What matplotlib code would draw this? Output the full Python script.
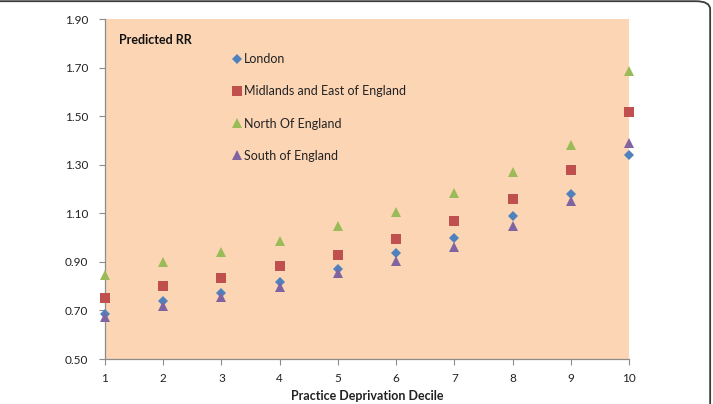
import matplotlib
matplotlib.use("Agg")
import matplotlib.pyplot as plt
from matplotlib.patches import FancyBboxPatch

plt.rcParams['font.family'] = ['Lato', 'DejaVu Sans']

deciles = [1, 2, 3, 4, 5, 6, 7, 8, 9, 10]
london = [0.686, 0.740, 0.771, 0.819, 0.872, 0.936, 1.000, 1.090, 1.180, 1.341]
midlands = [0.751, 0.799, 0.833, 0.881, 0.928, 0.995, 1.068, 1.158, 1.277, 1.517]
north = [0.847, 0.898, 0.939, 0.987, 1.048, 1.107, 1.183, 1.272, 1.382, 1.687]
south = [0.671, 0.719, 0.754, 0.796, 0.854, 0.902, 0.962, 1.048, 1.151, 1.391]
y_ticks = [0.50, 0.70, 0.90, 1.10, 1.30, 1.50, 1.70, 1.90]

W, H = 713, 404
fig = plt.figure(figsize=(W / 100, H / 100), dpi=100)
ax = fig.add_axes([105 / W, 1 - 359 / H, 524 / W, 340 / H])
ax.set_facecolor("#FCD5B5")

series = [
    ("London", london, "D", "#4F81BD", 5.5),
    ("Midlands and East of England", midlands, "s", "#C0504D", 7),
    ("North Of England", north, "^", "#9BBB59", 7.5),
    ("South of England", south, "^", "#8064A2", 7.5),
]
for name, vals, mk, col, ms in series:
    ax.plot(deciles, vals, linestyle="none", marker=mk, color=col,
            markersize=ms, markeredgewidth=0, label=name, clip_on=False, zorder=3)

ax.set_xlim(1, 10)
ax.set_ylim(0.5, 1.9)
ax.set_xticks(deciles)
ax.set_yticks(y_ticks)
ax.set_yticklabels([f"{v:.2f}" for v in y_ticks])
for s in ["top", "right"]:
    ax.spines[s].set_visible(False)
for s in ["left", "bottom"]:
    ax.spines[s].set_color("#8C8C8C")
    ax.spines[s].set_linewidth(0.9)
ax.tick_params(axis="both", direction="out", length=4, width=0.8,
               color="#8C8C8C", labelsize=8.5, labelcolor="#222222")
ax.tick_params(axis="y", pad=8)
ax.tick_params(axis="x", pad=6)

fig.text(367 / W, 1 - 396 / H, "Practice Deprivation Decile", fontsize=9,
         fontweight="bold", color="#222222", ha="center", va="center")

fig.text(119 / W, 1 - 40 / H, "Predicted RR", fontsize=9, fontweight="bold",
         color="#111111", va="center", ha="left")

leg = ax.legend(loc="upper left",
                bbox_to_anchor=((233 - 105) / 524, (359 - 53) / 340),
                frameon=False, fontsize=9, handlelength=0.6,
                handletextpad=0.3, labelspacing=1.62, borderpad=0,
                borderaxespad=0)
for t in leg.get_texts():
    t.set_color("#222222")

frame = FancyBboxPatch((-0.05, -0.05), 1.046, 1.047,
                       boxstyle="round,pad=0,rounding_size=0.02",
                       transform=fig.transFigure, fill=False,
                       edgecolor="#3A3A3A", linewidth=1.3, clip_on=False)
fig.patches.append(frame)

fig.savefig("out.png", dpi=100)
